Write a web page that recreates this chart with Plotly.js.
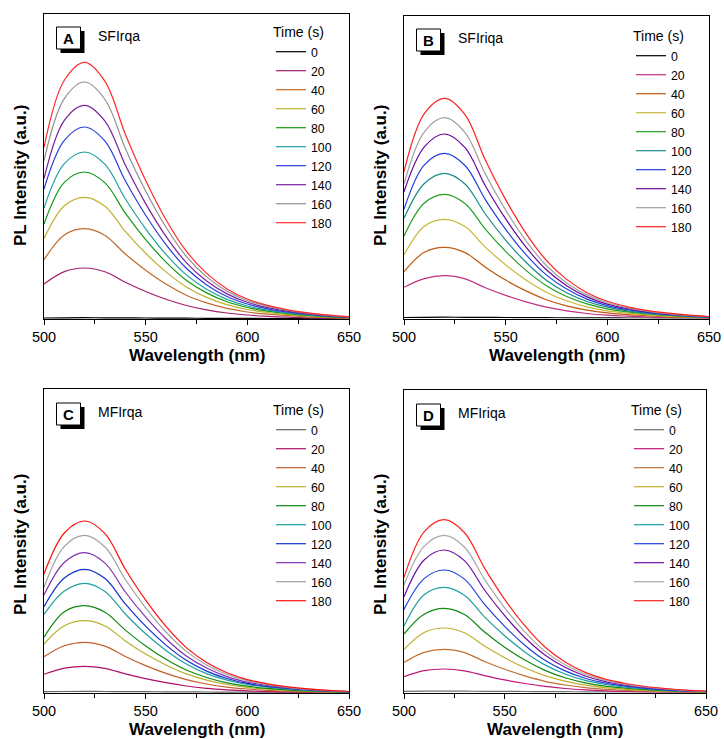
<!DOCTYPE html>
<html>
<head>
<meta charset="utf-8">
<script src="https://cdn.plot.ly/plotly-3.0.1.min.js"></script>
<style>html,body{margin:0;padding:0;background:#fff;}#chart{width:724px;height:739px;}</style>
</head>
<body>
<div id="chart"></div>
<script>
// ---------------- DATA ----------------
const wavelength = [500, 510, 520, 530, 540, 550, 560, 570, 580, 590, 600, 610, 620, 630, 640, 650];
const timeLabels = ['0', '20', '40', '60', '80', '100', '120', '140', '160', '180'];
const panelLetters = ['A', 'B', 'C', 'D'];
const sampleNames = ['SFIrqa', 'SFIriqa', 'MFIrqa', 'MFIriqa'];

// Panel A (SFIrqa)
const a_0   = [1.0, 1.2, 1.3, 1.2, 1.1, 1.0, 0.9, 0.8, 0.7, 0.6, 0.6, 0.5, 0.5, 0.4, 0.4, 0.3];
const a_20  = [35.0, 47.4, 51.0, 47.2, 36.7, 27.5, 19.7, 13.5, 9.1, 6.0, 4.0, 2.7, 1.8, 1.2, 0.8, 0.5];
const a_40  = [59.3, 84.0, 90.3, 83.6, 65.0, 48.8, 34.9, 23.8, 16.1, 10.6, 7.0, 4.8, 3.3, 2.2, 1.4, 0.8];
const a_60  = [80.3, 113.2, 121.7, 112.7, 87.6, 65.7, 47.1, 32.1, 21.6, 14.3, 9.5, 6.5, 4.4, 2.9, 1.8, 1.1];
const a_80  = [95.0, 136.7, 147.0, 136.1, 105.8, 79.4, 56.9, 38.8, 26.1, 17.2, 11.5, 7.8, 5.3, 3.5, 2.2, 1.3];
const a_100 = [111.0, 155.3, 167.0, 154.6, 120.2, 90.2, 64.6, 44.1, 29.7, 19.6, 13.0, 8.9, 6.0, 4.0, 2.5, 1.5];
const a_120 = [130.0, 178.6, 192.0, 177.8, 138.2, 103.7, 74.3, 50.7, 34.1, 22.5, 15.0, 10.2, 6.9, 4.6, 2.9, 1.7];
const a_140 = [140.3, 198.7, 213.7, 197.9, 153.9, 115.4, 82.7, 56.4, 37.9, 25.1, 16.7, 11.3, 7.7, 5.1, 3.2, 1.9];
const a_160 = [158.3, 220.4, 237.0, 219.5, 170.6, 128.0, 91.7, 62.6, 42.1, 27.8, 18.5, 12.6, 8.5, 5.7, 3.6, 2.1];
const a_180 = [171.7, 238.7, 256.7, 237.7, 184.8, 138.6, 99.3, 67.8, 45.6, 30.1, 20.0, 13.6, 9.2, 6.2, 3.9, 2.3];

// Panel B (SFIriqa)
const b_0   = [1.0, 1.2, 1.3, 1.2, 1.1, 1.0, 0.9, 0.8, 0.7, 0.6, 0.6, 0.5, 0.5, 0.4, 0.4, 0.3];
const b_20  = [31.2, 39.8, 42.8, 39.6, 30.8, 23.1, 16.6, 11.3, 7.6, 5.0, 3.3, 2.3, 1.5, 1.0, 0.6, 0.4];
const b_40  = [46.8, 66.2, 71.2, 65.9, 51.3, 38.4, 27.6, 18.8, 12.6, 8.4, 5.6, 3.8, 2.6, 1.7, 1.1, 0.6];
const b_60  = [63.5, 92.3, 99.2, 91.9, 71.4, 53.6, 38.4, 26.2, 17.7, 11.6, 7.7, 5.3, 3.6, 2.4, 1.5, 0.9];
const b_80  = [82.5, 115.5, 124.2, 115.0, 89.4, 67.1, 48.1, 32.8, 22.0, 14.6, 9.7, 6.6, 4.5, 3.0, 1.9, 1.1];
const b_100 = [100.2, 135.0, 145.2, 134.5, 104.5, 78.4, 56.2, 38.3, 25.8, 17.0, 11.3, 7.7, 5.2, 3.5, 2.2, 1.3];
const b_120 = [109.2, 153.6, 165.2, 153.0, 118.9, 89.2, 63.9, 43.6, 29.4, 19.4, 12.9, 8.8, 5.9, 4.0, 2.5, 1.5];
const b_140 = [126.8, 171.6, 184.5, 170.8, 132.8, 99.6, 71.4, 48.7, 32.8, 21.6, 14.4, 9.8, 6.6, 4.4, 2.8, 1.7];
const b_160 = [134.5, 186.7, 200.8, 185.9, 144.6, 108.4, 77.7, 53.0, 35.6, 23.6, 15.7, 10.6, 7.2, 4.8, 3.0, 1.8];
const b_180 = [146.8, 204.8, 220.2, 203.9, 158.5, 118.9, 85.2, 58.1, 39.1, 25.8, 17.2, 11.7, 7.9, 5.3, 3.3, 2.0];

// Panel C (MFIrqa)
const c_0   = [1.3, 1.5, 1.6, 1.5, 1.4, 1.3, 1.2, 1.1, 1.0, 0.9, 0.9, 0.8, 0.8, 0.7, 0.7, 0.6];
const c_20  = [18.7, 24.8, 26.7, 24.7, 19.2, 14.4, 10.3, 7.0, 4.7, 3.2, 2.1, 1.4, 1.0, 0.6, 0.4, 0.2];
const c_40  = [36.3, 47.2, 50.7, 46.9, 36.5, 27.4, 19.6, 13.4, 9.0, 5.9, 4.0, 2.7, 1.8, 1.2, 0.8, 0.5];
const c_60  = [49.0, 67.2, 72.3, 67.0, 52.1, 39.0, 28.0, 19.1, 12.9, 8.5, 5.6, 3.8, 2.6, 1.7, 1.1, 0.7];
const c_80  = [55.7, 81.2, 87.3, 80.8, 62.9, 47.1, 33.8, 23.0, 15.5, 10.2, 6.8, 4.6, 3.1, 2.1, 1.3, 0.8];
const c_100 = [78.7, 102.0, 109.7, 101.6, 79.0, 59.2, 42.5, 29.0, 19.4, 12.9, 8.6, 5.8, 3.9, 2.6, 1.6, 1.0];
const c_120 = [86.3, 115.0, 123.7, 114.5, 89.1, 66.8, 47.9, 32.7, 21.9, 14.5, 9.6, 6.6, 4.5, 3.0, 1.9, 1.1];
const c_140 = [98.0, 130.5, 140.3, 129.9, 101.0, 75.8, 54.3, 37.0, 25.0, 16.4, 10.9, 7.4, 5.1, 3.4, 2.1, 1.3];
const c_160 = [105.7, 146.7, 157.7, 146.0, 113.5, 85.2, 61.0, 41.6, 28.0, 18.5, 12.3, 8.4, 5.7, 3.8, 2.4, 1.4];
const c_180 = [119.0, 160.0, 172.0, 159.3, 123.8, 92.9, 66.6, 45.4, 30.5, 20.2, 13.4, 9.1, 6.2, 4.1, 2.6, 1.5];

// Panel D (MFIriqa)
const d_0   = [1.3, 1.5, 1.6, 1.5, 1.4, 1.3, 1.2, 1.1, 1.0, 0.9, 0.9, 0.8, 0.8, 0.7, 0.7, 0.6];
const d_20  = [16.0, 22.0, 23.7, 21.9, 17.1, 12.8, 9.2, 6.3, 4.2, 2.8, 1.8, 1.3, 0.9, 0.6, 0.4, 0.2];
const d_40  = [30.3, 40.3, 43.3, 40.1, 31.2, 23.4, 16.8, 11.4, 7.7, 5.1, 3.4, 2.3, 1.6, 1.0, 0.6, 0.4];
const d_60  = [43.3, 60.2, 64.7, 59.9, 46.6, 34.9, 25.0, 17.1, 11.5, 7.5, 5.0, 3.4, 2.3, 1.6, 1.0, 0.6];
const d_80  = [58.7, 78.4, 84.3, 78.1, 60.7, 45.5, 32.6, 22.3, 14.9, 9.9, 6.6, 4.5, 3.0, 2.0, 1.3, 0.8];
const d_100 = [66.7, 97.9, 105.3, 97.5, 75.8, 56.9, 40.8, 27.8, 18.7, 12.3, 8.2, 5.6, 3.8, 2.5, 1.6, 0.9];
const d_120 = [83.3, 114.1, 122.7, 113.6, 88.3, 66.3, 47.5, 32.4, 21.8, 14.4, 9.6, 6.5, 4.4, 2.9, 1.8, 1.1];
const d_140 = [96.0, 132.7, 142.7, 132.1, 102.7, 77.1, 55.2, 37.7, 25.4, 16.7, 11.1, 7.6, 5.1, 3.4, 2.1, 1.3];
const d_160 = [107.7, 146.3, 157.3, 145.7, 113.3, 84.9, 60.9, 41.5, 27.9, 18.5, 12.3, 8.3, 5.7, 3.8, 2.4, 1.4];
const d_180 = [115.3, 160.9, 173.0, 160.2, 124.6, 93.4, 67.0, 45.7, 30.7, 20.3, 13.5, 9.2, 6.2, 4.2, 2.6, 1.6];

// ---------------- STYLE ----------------
const panelSeries = [
  [a_0, a_20, a_40, a_60, a_80, a_100, a_120, a_140, a_160, a_180],
  [b_0, b_20, b_40, b_60, b_80, b_100, b_120, b_140, b_160, b_180],
  [c_0, c_20, c_40, c_60, c_80, c_100, c_120, c_140, c_160, c_180],
  [d_0, d_20, d_40, d_60, d_80, d_100, d_120, d_140, d_160, d_180]
];
const panelColors = [
  ['#000000', '#a0206e', '#c06a2a', '#bfb030', '#109a10', '#20a0a0', '#2a3cd8', '#7a20a0', '#909090', '#ff2a2a'],
  ['#000000', '#c03080', '#c05a10', '#c8b838', '#20a020', '#1a8a8a', '#2040e0', '#6a0a9a', '#a0a0a0', '#ff2020'],
  ['#666666', '#b0106a', '#c0602a', '#b8b030', '#108a10', '#20a0a0', '#1030d0', '#8030b0', '#a0a0a0', '#ff1010'],
  ['#707070', '#c0187a', '#c07030', '#c0b030', '#108a10', '#20a0a0', '#2040e0', '#7010a0', '#a8a8a8', '#ff2020']
];

const W = 724, H = 739;
const px = v => v / W;
const py = v => 1 - v / H;
const FONT = 'Arial, "Liberation Sans", sans-serif';

// plot boxes in pixels: [left, right, top, bottom]
const boxes = [
  [44, 349, 14, 319],
  [404, 709, 16, 318.5],
  [44, 349, 389, 693],
  [404, 706, 390, 692.7]
];
const yTop = [305, 302.5, 304, 302.7];

const axSuffix = ['', '2', '3', '4'];
const legendIds = ['legend', 'legend2', 'legend3', 'legend4'];

const traces = [];
panelSeries.forEach((series, p) => {
  series.forEach((ys, i) => {
    traces.push({
      x: wavelength, y: ys, type: 'scatter', mode: 'lines',
      name: timeLabels[i],
      line: {color: panelColors[p][i], width: 1.2, shape: 'spline', smoothing: 1},
      xaxis: 'x' + axSuffix[p], yaxis: 'y' + axSuffix[p],
      legend: legendIds[p], hoverinfo: 'x+y+name'
    });
  });
});

const layout = {
  width: W, height: H,
  margin: {l: 0, r: 0, t: 0, b: 0},
  paper_bgcolor: '#fff', plot_bgcolor: '#fff',
  font: {family: FONT, color: '#000'},
  showlegend: true,
  shapes: [], annotations: []
};

// legend placement (pixel left/top)
const legendPos = [[271, 19], [631, 23], [271, 397], [629, 397]];

boxes.forEach((b, p) => {
  const [l, r, t, bt] = b;
  const s = axSuffix[p];
  layout['xaxis' + s] = {
    domain: [px(l), px(r)], range: [500, 650], anchor: 'y' + s,
    showline: true, mirror: true, linecolor: '#000', linewidth: 1,
    ticks: 'outside', ticklen: 5, tickwidth: 1, tickcolor: '#000',
    tick0: 500, dtick: 50, showgrid: false, zeroline: false,
    tickfont: {size: 14.5, family: FONT, color: '#000'},
    minor: {ticks: 'outside', ticklen: 4, tickwidth: 1, tickcolor: '#000', dtick: 25, tick0: 500, showgrid: false},
    fixedrange: true
  };
  layout['yaxis' + s] = {
    domain: [py(bt), py(t)], range: [0, yTop[p]], anchor: 'x' + s,
    showline: true, mirror: true, linecolor: '#000', linewidth: 1,
    ticks: '', showticklabels: false, showgrid: false, zeroline: false,
    fixedrange: true
  };
  layout[legendIds[p]] = {
    x: px(legendPos[p][0]), y: py(legendPos[p][1]), xanchor: 'left', yanchor: 'top',
    bgcolor: 'rgba(0,0,0,0)', borderwidth: 0,
    font: {size: 12.3, family: FONT, color: '#000'},
    title: {text: 'Time (s)', font: {size: 14, family: FONT, color: '#000'}},
    itemclick: false, itemdoubleclick: false
  };
  // x title
  layout.annotations.push({
    text: '<b>Wavelength (nm)</b>', xref: 'paper', yref: 'paper',
    x: px((l + r) / 2), y: py(p < 2 ? 355 : 729), xanchor: 'center', yanchor: 'middle',
    showarrow: false, font: {size: 17, family: FONT, color: '#000'}
  });
  // y title
  layout.annotations.push({
    text: '<b>PL Intensity (a.u.)</b>', xref: 'paper', yref: 'paper', textangle: -90,
    x: px(l - 24), y: py(p < 2 ? 176 : 545), xanchor: 'center', yanchor: 'middle',
    showarrow: false, font: {size: 17, family: FONT, color: '#000'}
  });
  // panel label box with shadow
  const bx = l + 12.5, by = t + (p < 2 ? 13 : 14);
  layout.shapes.push({type: 'rect', xref: 'paper', yref: 'paper',
    x0: px(bx + 4), x1: px(bx + 28), y0: py(by + 26), y1: py(by + 4),
    fillcolor: '#000', line: {width: 0}});
  layout.shapes.push({type: 'rect', xref: 'paper', yref: 'paper',
    x0: px(bx), x1: px(bx + 24), y0: py(by + 22), y1: py(by),
    fillcolor: '#fff', line: {color: '#000', width: 1}});
  layout.annotations.push({
    text: '<b>' + panelLetters[p] + '</b>', xref: 'paper', yref: 'paper',
    x: px(bx + 12), y: py(by + 11.5), xanchor: 'center', yanchor: 'middle',
    showarrow: false, font: {size: 15, family: FONT, color: '#000'}
  });
  layout.annotations.push({
    text: sampleNames[p], xref: 'paper', yref: 'paper',
    x: px(bx + 39), y: py(by + 9), xanchor: 'left', yanchor: 'middle',
    showarrow: false, font: {size: 14, family: FONT, color: '#000'}
  });
});

Plotly.newPlot('chart', traces, layout, {staticPlot: false, displayModeBar: false, responsive: false});
</script>
</body>
</html>
